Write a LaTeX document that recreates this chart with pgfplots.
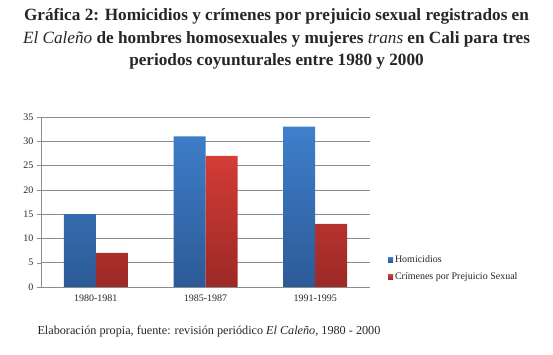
\documentclass[border=0pt]{standalone}
\usepackage{fontspec}
\setmainfont{Liberation Serif}
\usepackage{pgfplots}
\pgfplotsset{compat=1.18}
\definecolor{blueT}{HTML}{3F7FCC}
\definecolor{blueB}{HTML}{2C5A96}
\definecolor{redT}{HTML}{D43C37}
\definecolor{redB}{HTML}{9B2926}
\definecolor{gridc}{HTML}{8C8C8C}
\begin{document}
\begin{tikzpicture}[x=1pt,y=1pt]
\path[use as bounding box] (0,0) rectangle (553,355);
\node[font=\bfseries\fontsize{17.2}{22.5}\selectfont, align=center, text=black!85] at (276.5,316) {Gráfica 2: Homicidios y crímenes por prejuicio sexual registrados en\\ \textit{\mdseries El Caleño} de hombres homosexuales y mujeres \textit{\mdseries trans} en Cali para tres\\ periodos coyunturales entre 1980 y 2000};
\node[anchor=base west, font=\fontsize{12.2}{14}\selectfont, text=black!85] at (34,20) {Elaboración propia, fuente: revisión periódico \textit{El Caleño}, 1980 - 2000};
\begin{axis}[
  at={(41pt,68pt)}, anchor=south west,
  scale only axis, width=329pt, height=170pt,
  xmin=-0.5, xmax=2.5, ymin=0, ymax=35,
  ybar=0pt, bar width=32pt,
  axis lines*=left,
  axis line style={gridc},
  xtick={0,1,2},
  xticklabels={1980-1981,1985-1987,1991-1995},
  x tick style={draw=none},
  extra x ticks={-0.5,0.5,1.5,2.5},
  extra x tick labels={},
  extra x tick style={major tick length=4pt, tick align=outside, tick style={gridc, draw=gridc}},
  ytick={0,5,...,35},
  ymajorgrids,
  grid style={gridc, line width=0.6pt},
  y tick style={gridc},
  major tick length=4pt,
  tick align=outside,
  tick label style={font=\fontsize{10}{12}\selectfont, text=black!85},
  /pgf/number format/assume math mode=true,
  legend style={at={(1.045,0.11)}, anchor=west, draw=none, fill=none,
    font=\fontsize{10}{12}\selectfont, row sep=5pt, text=black!85},
  legend cell align=left,
  legend image code/.code={\fill[#1] (0pt,-2.5pt) rectangle (5pt,2.5pt);},
]
\addplot[draw=none, top color=blueT, bottom color=blueB] coordinates {(0,15) (1,31) (2,33)};
\addplot[draw=none, top color=redT, bottom color=redB] coordinates {(0,7) (1,27) (2,13)};
\legend{Homicidios, Crímenes por Prejuicio Sexual}
\end{axis}
\end{tikzpicture}
\end{document}
